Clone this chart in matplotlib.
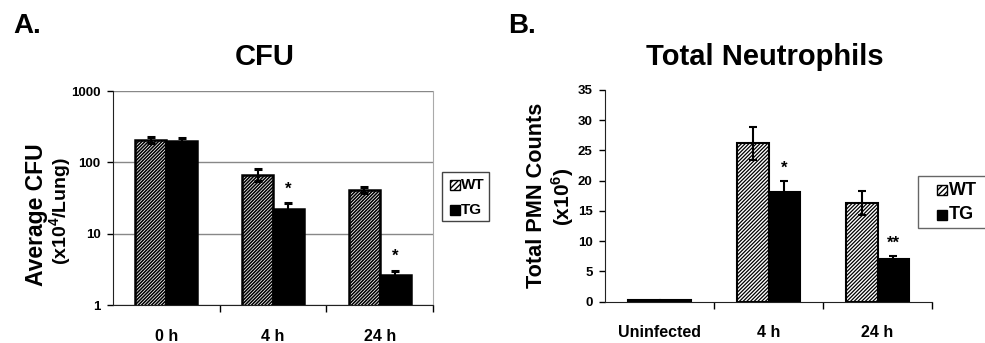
import matplotlib
matplotlib.use("Agg")
import matplotlib.pyplot as plt
from matplotlib.patches import Rectangle
import numpy as np

plt.rcParams['font.family'] = ['Liberation Sans', 'DejaVu Sans']

# Panel A data
cfu_categories = ["0 h", "4 h", "24 h"]
cfu_wt = [205, 67, 41]
cfu_wt_err = [20, 13, 3.5]
cfu_tg = [196, 22, 2.6]
cfu_tg_err = [20, 4.6, 0.4]
cfu_sig = ["", "*", "*"]

# Panel B data
pmn_categories = ["Uninfected", "4 h", "24 h"]
pmn_wt = [0.3, 26.2, 16.3]
pmn_wt_err = [0.0, 2.7, 2.0]
pmn_tg = [0.2, 18.2, 7.0]
pmn_tg_err = [0.0, 1.8, 0.55]
pmn_sig = ["", "*", "**"]

W, H = 985, 343
fig = plt.figure(figsize=(W / 100, H / 100), dpi=100)


def fx(px):
    return px / W


def fy(py):
    return 1 - py / H


bw = 0.29


def style_axes(ax, n):
    ax.set_xlim(0, n)
    ax.set_xticks(np.arange(n) + 0.5)
    ax.set_xticks(np.arange(1, n + 1), minor=True)
    ax.tick_params(axis='x', which='major', length=0, pad=17, labelsize=11.5)
    ax.tick_params(axis='x', which='minor', length=5, direction='out', width=1)
    ax.tick_params(axis='y', which='major', length=4, direction='out', width=1,
                   labelsize=9.5, pad=5)
    ax.tick_params(axis='y', which='minor', length=0)
    for lab in ax.get_xticklabels() + ax.get_yticklabels():
        lab.set_fontweight('bold')
    ax.spines['left'].set_color('#222222')
    ax.spines['bottom'].set_color('#222222')


def manual_legend(box, hx, tx, rows, fs, edge):
    x0, y0, x1, y1 = box
    fig.patches.append(Rectangle((fx(x0), fy(y1)), fx(x1) - fx(x0), fy(y0) - fy(y1),
                                 transform=fig.transFigure, facecolor='white',
                                 edgecolor=edge, linewidth=1.0))
    for (label, yc, hatch, fc) in rows:
        s = 10
        fig.patches.append(Rectangle((fx(hx), fy(yc + s / 2)), s / W, s / H,
                                     transform=fig.transFigure, facecolor=fc,
                                     edgecolor='black', hatch=hatch, linewidth=1.0))
        fig.text(fx(tx), fy(yc), label, fontsize=fs, fontweight='bold',
                 ha='left', va='center')


# ---------- Panel A ----------
axA = fig.add_axes([fx(113), fy(305), 320 / W, 214 / H])
x = np.arange(len(cfu_categories)) + 0.5
axA.set_yscale('log')
axA.set_ylim(1, 1000)
axA.yaxis.grid(True, which='major', color='#888888', linewidth=1.0)
axA.set_axisbelow(True)
plt.rcParams['hatch.linewidth'] = 1.15
axA.bar(x - bw / 2, cfu_wt, bw, color='white', edgecolor='black', hatch='//////////',
        linewidth=1.8, zorder=2)
axA.bar(x + bw / 2, cfu_tg, bw, color='black', edgecolor='black', linewidth=1.8,
        zorder=2)
axA.errorbar(x - bw / 2, cfu_wt, yerr=cfu_wt_err, fmt='none', ecolor='black',
             elinewidth=1.5, capsize=3, capthick=2.2, zorder=3)
axA.errorbar(x + bw / 2, cfu_tg, yerr=cfu_tg_err, fmt='none', ecolor='black',
             elinewidth=1.5, capsize=3, capthick=2.2, zorder=3)
for xi, v, e, s in zip(x, cfu_tg, cfu_tg_err, cfu_sig):
    if s:
        axA.text(xi + bw / 2, (v + e) * 1.25, s, ha='center', va='bottom',
                 fontsize=12, fontweight='bold')
axA.set_xticklabels(cfu_categories)
axA.set_yticks([1, 10, 100, 1000])
axA.set_yticklabels(['1', '10', '100', '1000'])
style_axes(axA, 3)
axA.spines['top'].set_visible(False)
axA.spines['right'].set_color('#aaaaaa')

fig.text(fx(265), fy(57), 'CFU', fontsize=21, fontweight='bold', ha='center', va='center')
fig.text(fx(36), fy(215), 'Average CFU', fontsize=16.5, fontweight='bold',
         rotation=90, ha='center', va='center')
fig.text(fx(61), fy(211), '(x10$^{\\mathregular{4}}$/Lung)', fontsize=14, fontweight='bold',
         rotation=90, ha='center', va='center')
plt.rcParams['hatch.linewidth'] = 1.0
manual_legend((442, 172, 489, 221), 450, 461,
              [('WT', 185, '//////', 'white'), ('TG', 210, '', 'black')], 11, '#444444')

# ---------- Panel B ----------
axB = fig.add_axes([fx(605), fy(301.7), 327 / W, 211.7 / H])
xb = np.arange(len(pmn_categories)) + 0.5
axB.set_ylim(0, 35)
plt.rcParams['hatch.linewidth'] = 0.9
axB.bar(xb - bw / 2, pmn_wt, bw, color='white', edgecolor='black', hatch='/////////',
        linewidth=1.5, zorder=2)
axB.bar(xb + bw / 2, pmn_tg, bw, color='black', edgecolor='black', linewidth=1.5,
        zorder=2)
wt_mask = np.array(pmn_wt_err) > 0
tg_mask = np.array(pmn_tg_err) > 0
axB.errorbar((xb - bw / 2)[wt_mask], np.array(pmn_wt)[wt_mask],
             yerr=np.array(pmn_wt_err)[wt_mask], fmt='none', ecolor='black',
             elinewidth=1.5, capsize=3, capthick=1.5, zorder=3)
axB.errorbar((xb + bw / 2)[tg_mask], np.array(pmn_tg)[tg_mask],
             yerr=np.array(pmn_tg_err)[tg_mask], fmt='none', ecolor='black',
             elinewidth=1.5, capsize=3, capthick=1.5, zorder=3)
for xi, v, e, s in zip(xb, pmn_tg, pmn_tg_err, pmn_sig):
    if s:
        axB.text(xi + bw / 2, v + e + 0.8, s, ha='center', va='bottom',
                 fontsize=12, fontweight='bold')
axB.set_xticklabels(pmn_categories)
axB.set_yticks(np.arange(0, 36, 5))
style_axes(axB, 3)
axB.spines['top'].set_visible(False)
axB.spines['right'].set_visible(False)

fig.text(fx(765), fy(57), 'Total Neutrophils', fontsize=21, fontweight='bold',
         ha='center', va='center')
fig.text(fx(536), fy(195), 'Total PMN Counts', fontsize=15.6, fontweight='bold',
         rotation=90, ha='center', va='center')
fig.text(fx(563), fy(197), '(x10$^{\\mathregular{6}}$)', fontsize=15, fontweight='bold',
         rotation=90, ha='center', va='center')
plt.rcParams['hatch.linewidth'] = 1.0
manual_legend((918, 176, 990, 228), 937, 949,
              [('WT', 190, '//////', 'white'), ('TG', 215, '', 'black')], 13, '#666666')

fig.text(fx(13), fy(33), 'A.', fontsize=20, fontweight='bold', ha='left', va='baseline')
fig.text(fx(508), fy(33), 'B.', fontsize=20, fontweight='bold', ha='left', va='baseline')

fig.savefig('out.png', dpi=100)
